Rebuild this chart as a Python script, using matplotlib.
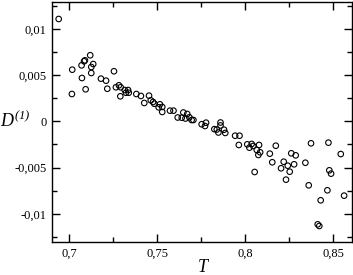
import matplotlib
matplotlib.use("Agg")
import matplotlib.pyplot as plt
from matplotlib.ticker import MultipleLocator, FuncFormatter

plt.rcParams['font.family'] = ['Liberation Serif', 'DejaVu Serif']
plt.rcParams['mathtext.fontset'] = 'custom'
plt.rcParams['mathtext.rm'] = 'Liberation Serif:italic'
plt.rcParams['mathtext.it'] = 'Liberation Serif:italic'

T = [0.6940, 0.7017, 0.7015, 0.7072, 0.7070, 0.7084, 0.7089, 0.7093, 0.7119, 0.7125,
     0.7125, 0.7136, 0.7180, 0.7209, 0.7216, 0.7254, 0.7265, 0.7282, 0.7290, 0.7292,
     0.7315, 0.7322, 0.7334, 0.7338, 0.7381, 0.7407, 0.7426, 0.7453, 0.7463, 0.7476,
     0.7483, 0.7508, 0.7515, 0.7528, 0.7528, 0.7572, 0.7592, 0.7616, 0.7639, 0.7648,
     0.7660, 0.7670, 0.7682, 0.7695, 0.7705, 0.7752, 0.7777, 0.7771, 0.7824, 0.7838,
     0.7847, 0.7859, 0.7859, 0.7879, 0.7886, 0.7942, 0.7967, 0.7963, 0.8011, 0.8023,
     0.8036, 0.8045, 0.8065, 0.8078, 0.8084, 0.8074, 0.8053, 0.8139, 0.8153, 0.8173,
     0.8218, 0.8203, 0.8231, 0.8241, 0.8252, 0.8261, 0.8277, 0.8286, 0.8341, 0.8360,
     0.8373, 0.8428, 0.8466, 0.8472, 0.8477, 0.8487, 0.8411, 0.8420, 0.8542, 0.8561]

D1 = [0.01106, 0.00558, 0.00295, 0.00468, 0.00605, 0.00649, 0.00659, 0.00346, 0.00714, 0.00587,
      0.00522, 0.00619, 0.00461, 0.00439, 0.00352, 0.00541, 0.00368, 0.00389, 0.00270, 0.00368,
      0.00338, 0.00309, 0.00338, 0.00309, 0.00295, 0.00274, 0.00198, 0.00277, 0.00227, 0.00209,
      0.00190, 0.00151, 0.00184, 0.00155, 0.00101, 0.00115, 0.00115, 0.00041, 0.00039, 0.00095,
      0.00030, 0.00079, 0.00043, 0.00014, 0.00014, -0.00032, -0.00015, -0.00051, -0.00085, -0.00089,
      -0.00121, -0.00013, -0.00045, -0.00091, -0.00126, -0.00156, -0.00156, -0.00256, -0.00249, -0.00285,
      -0.00245, -0.00267, -0.00310, -0.00256, -0.00335, -0.00364, -0.00548, -0.00350, -0.00443, -0.00264,
      -0.00437, -0.00508, -0.00631, -0.00480, -0.00545, -0.00346, -0.00465, -0.00368, -0.00448, -0.00692,
      -0.00238, -0.00854, -0.00746, -0.00231, -0.00530, -0.00566, -0.01114, -0.01132, -0.00354, -0.00804]

x_label = 'T'
y_label = r'$D^{(1)}$'

fig = plt.figure(figsize=(3.53, 2.75), dpi=100)
ax = fig.add_axes([52/353, 33/275, (351.5-52)/353, (242-1.7)/275])

ax.scatter(T, D1, s=16, facecolors='none', edgecolors='black', linewidths=0.8, zorder=3)

ax.set_xlim(0.6902, 0.8603)
ax.set_ylim(-0.01305, 0.01293)

ax.xaxis.set_major_locator(MultipleLocator(0.05))
ax.xaxis.set_minor_locator(MultipleLocator(0.025))
ax.yaxis.set_major_locator(MultipleLocator(0.005))
ax.yaxis.set_minor_locator(MultipleLocator(0.0025))

def fmt(v, pos):
    if abs(v) < 1e-9:
        return '0'
    s = ('%.3f' % v).rstrip('0').rstrip('.')
    return s.replace('.', ',')

ax.xaxis.set_major_formatter(FuncFormatter(fmt))
ax.yaxis.set_major_formatter(FuncFormatter(fmt))

ax.tick_params(which='both', direction='in', top=True, right=True,
               labeltop=False, labelright=False, width=1.0, color='black')
ax.tick_params(which='major', length=6, labelsize=9, pad=4)
ax.tick_params(which='minor', length=3.5)
for s in ax.spines.values():
    s.set_linewidth(1.0)

fig.text(203/353, (275-267.5)/275, x_label, fontsize=13, style='italic',
         ha='center', va='center')
fig.text(0.0, (275-121)/275, y_label, fontsize=13, ha='left', va='center')

fig.savefig('out.png', dpi=100)
